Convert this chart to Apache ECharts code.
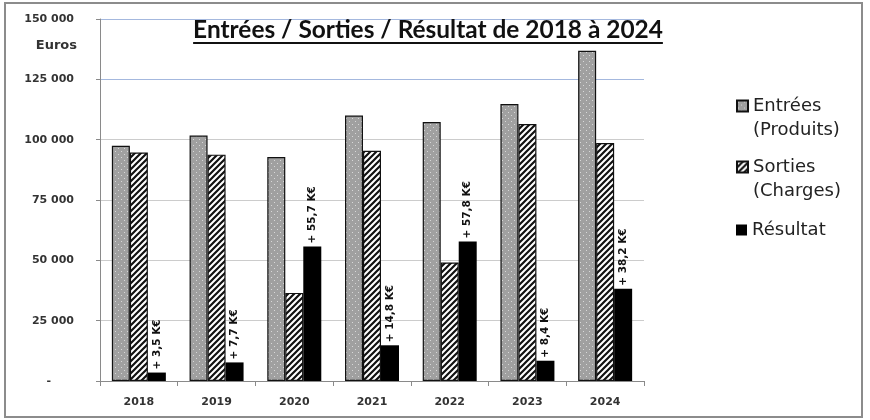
<!DOCTYPE html>
<html>
<head>
<meta charset="utf-8">
<script src="https://cdn.jsdelivr.net/npm/echarts@6/dist/echarts.min.js"></script>
<style>
  html, body { margin: 0; padding: 0; background: #fff; }
  #chart { width: 870px; height: 420px; }
</style>
</head>
<body>
<div id="chart"></div>
<script>
// données
const years = ['2018', '2019', '2020', '2021', '2022', '2023', '2024'];
const entrees = [97500, 101700, 92800, 110000, 107300, 114800, 136800];
const sorties = [94700, 93800, 36500, 95400, 49100, 106500, 98600];
const resultat = [3500, 7700, 55700, 14800, 57800, 8400, 38200];
const yTicks = [0, 25000, 50000, 75000, 100000, 125000, 150000];

const titre = 'Entrées / Sorties / Résultat de 2018 à 2024';
const TITLE_FONT = 'Lato';
const FONT = 'DejaVu Sans';

// motifs de remplissage (style Excel)
const makePattern = (w, h, draw) => {
  const c = document.createElement('canvas');
  c.width = w;
  c.height = h;
  draw(c.getContext('2d'));
  return c;
};
const greyDots = makePattern(6, 6, ctx => {
  ctx.fillStyle = '#a0a0a0';
  ctx.fillRect(0, 0, 6, 6);
  ctx.fillStyle = '#d8d8d8';
  ctx.fillRect(1, 1, 1, 1);
  ctx.fillRect(4, 4, 1, 1);
});
const hatch = makePattern(6, 6, ctx => {
  ctx.fillStyle = '#fff';
  ctx.fillRect(0, 0, 6, 6);
  ctx.strokeStyle = '#111';
  ctx.lineWidth = 2.2;
  ctx.beginPath();
  ctx.moveTo(-1, 7); ctx.lineTo(7, -1);
  ctx.moveTo(-1, 1); ctx.lineTo(1, -1);
  ctx.moveTo(5, 7); ctx.lineTo(7, 5);
  ctx.stroke();
});

// taille du titre ajustée à sa largeur (~470 px) + soulignement
const measure = document.createElement('canvas').getContext('2d');
measure.font = 'bold 20px ' + TITLE_FONT;
const titreSize = 20 * 470 / measure.measureText(titre).width;
measure.font = 'bold ' + titreSize + 'px ' + TITLE_FONT;
const titreW = measure.measureText(titre).width;
const titreX = 428;

const fmt = v => v === 0 ? '-      ' : String(v).replace(/\B(?=(\d{3})+(?!\d))/g, ' ');
const fmtRes = v => '+ ' + (v / 1000).toFixed(1).replace('.', ',') + ' K€';

const legendBase = {
  orient: 'vertical', left: 736, padding: 0,
  icon: 'rect', itemWidth: 11, itemHeight: 11,
  textStyle: { fontFamily: FONT, fontSize: 18, color: '#222', lineHeight: 24 },
  // ligne vide devant pour aligner le carré sur la première ligne
  formatter: name => name.indexOf('\n') >= 0 ? ' \n' + name : name
};

const chart = echarts.init(document.getElementById('chart'));
chart.setOption({
  animation: false,
  textStyle: { fontFamily: FONT },
  title: {
    text: titre,
    left: titreX,
    top: 18,
    textAlign: 'center',
    padding: 0,
    textStyle: { fontFamily: TITLE_FONT, fontSize: titreSize, lineHeight: 24, fontWeight: 'bold', color: '#111' }
  },
  graphic: [
    {
      type: 'rect',
      shape: { x: 5, y: 3, width: 857, height: 414 },
      style: { fill: null, stroke: '#8c8c8c', lineWidth: 2 },
      z: -1
    },
    {
      type: 'line',
      shape: { x1: titreX - titreW / 2, y1: 43, x2: titreX + titreW / 2, y2: 43 },
      style: { stroke: '#111', lineWidth: 2 }
    }
  ],
  legend: [
    Object.assign({ data: ['Entrées\n(Produits)'], top: 70 }, legendBase),
    Object.assign({ data: ['Sorties\n(Charges)'], top: 131 }, legendBase),
    Object.assign({ data: ['Résultat'], top: 218 }, legendBase)
  ],
  grid: { left: 100, right: 226, top: 19, bottom: 39 },
  xAxis: {
    type: 'category',
    data: years,
    axisLine: { lineStyle: { color: '#8a8a8a' } },
    axisTick: { show: true, length: 5, lineStyle: { color: '#8a8a8a' } },
    axisLabel: { margin: 16, fontSize: 11, fontWeight: 'bold', color: '#333' }
  },
  yAxis: {
    type: 'value',
    min: 0,
    max: 150000,
    interval: 25000,
    name: 'Euros',
    nameLocation: 'end',
    nameGap: -33,
    nameTextStyle: { align: 'right', padding: [0, 23, 0, 0], fontSize: 13, fontWeight: 'bold', color: '#333' },
    axisLine: { show: true, lineStyle: { color: '#8a8a8a' } },
    axisTick: { show: true, length: 4, lineStyle: { color: '#8a8a8a' } },
    axisLabel: { margin: 26, fontSize: 11, fontWeight: 'bold', color: '#333', formatter: fmt },
    splitLine: {
      lineStyle: {
        color: yTicks.map(v => v >= 125000 ? '#a4b8de' : '#cccccc'),
        width: 1
      }
    }
  },
  series: [
    {
      name: 'Entrées\n(Produits)',
      type: 'bar',
      data: entrees,
      barWidth: 18,
      barGap: '0%',
      itemStyle: { color: { image: greyDots, repeat: 'repeat' }, borderColor: '#111', borderWidth: 1.2 }
    },
    {
      name: 'Sorties\n(Charges)',
      type: 'bar',
      data: sorties,
      barWidth: 18,
      barGap: '0%',
      itemStyle: { color: { image: hatch, repeat: 'repeat' }, borderColor: '#111', borderWidth: 1.2 }
    },
    {
      name: 'Résultat',
      type: 'bar',
      data: resultat,
      barWidth: 18,
      barGap: '0%',
      itemStyle: { color: '#000' },
      label: {
        show: true,
        position: 'top',
        rotate: 90,
        align: 'left',
        verticalAlign: 'middle',
        distance: 3,
        fontSize: 10.5,
        fontWeight: 'bold',
        color: '#111',
        formatter: p => fmtRes(p.value)
      }
    }
  ]
});
</script>
</body>
</html>
